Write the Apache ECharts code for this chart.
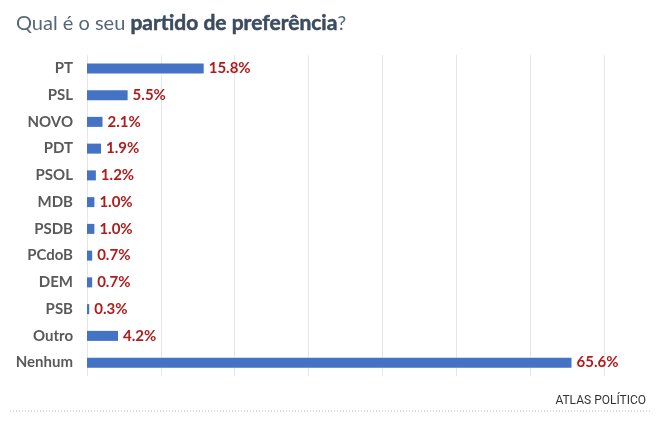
<!DOCTYPE html>
<html>
<head>
<meta charset="utf-8">
<style>
html, body { margin: 0; padding: 0; background: #fff; }
#show_picture { width: 660px; height: 424px; }
</style>
<script src="https://cdn.jsdelivr.net/npm/echarts@6/dist/echarts.min.js"></script>
</head>
<body>
<div id="show_picture"></div>
<script>
const partidos = ['PT', 'PSL', 'NOVO', 'PDT', 'PSOL', 'MDB', 'PSDB', 'PCdoB', 'DEM', 'PSB', 'Outro', 'Nenhum'];
const valores = [15.8, 5.5, 2.1, 1.9, 1.2, 1.0, 1.0, 0.7, 0.7, 0.3, 4.2, 65.6];

let myChart = echarts.init(document.getElementById('show_picture'));

let option = {
    animation: false,
    backgroundColor: '#fff',
    title: [
        {
            text: '{a|Qual é o seu }{b|partido de preferência}{a|?}',
            left: 11,
            top: 8,
            textStyle: {
                rich: {
                    a: { fontFamily: 'Lato', fontSize: 20, fontWeight: 'normal', color: '#55667a' },
                    b: { fontFamily: 'Lato', fontSize: 21, fontWeight: 'bold', color: '#3c4c60', textBorderColor: '#3c4c60', textBorderWidth: 0.5 }
                }
            }
        },
        {
            text: 'ATLAS POLÍTICO',
            right: 9,
            top: 390,
            textStyle: { fontFamily: 'Roboto', fontSize: 12, fontWeight: 'normal', color: '#333' }
        }
    ],
    grid: { left: 87, right: 56, top: 55, bottom: 48 },
    xAxis: {
        type: 'value',
        min: 0,
        max: 70,
        interval: 10,
        axisLabel: { show: false },
        axisLine: { show: false },
        axisTick: { show: false },
        splitLine: { show: true, lineStyle: { color: '#e6e6e6', width: 1 } }
    },
    yAxis: {
        type: 'category',
        inverse: true,
        data: partidos,
        axisLine: { show: false },
        axisTick: { show: false },
        axisLabel: {
            interval: 0,
            margin: 14,
            fontFamily: 'Lato',
            fontSize: 15,
            fontWeight: 'bold',
            color: '#595959'
        }
    },
    series: [
        {
            type: 'bar',
            data: valores,
            barWidth: 10,
            itemStyle: { color: '#4472c4' },
            label: {
                show: true,
                position: 'right',
                distance: 5,
                formatter: (p) => p.value.toFixed(1) + '%',
                fontFamily: 'Lato',
                fontSize: 15,
                fontWeight: 'bold',
                color: '#b01c1c'
            }
        }
    ],
    graphic: [
        {
            type: 'line',
            shape: { x1: 10, y1: 411, x2: 652, y2: 411 },
            style: { stroke: '#bdbdbd', lineWidth: 1, lineDash: [1, 2] }
        }
    ]
};

myChart.setOption(option);
</script>
</body>
</html>
